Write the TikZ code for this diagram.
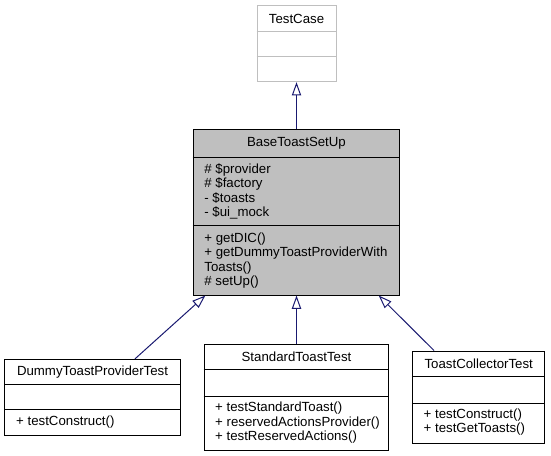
\documentclass[tikz,border=0pt]{standalone}
\usepackage{fontspec}
\setmainfont{Liberation Sans}
\usepackage{tikz}
\usetikzlibrary{arrows.meta,calc}
\definecolor{grey75}{HTML}{BFBFBF}
\definecolor{edgeblue}{HTML}{191970}
\tikzset{
	classbox/.style={draw=black, fill=white, line width=1bp, inner sep=0pt},
	member/.style={anchor=west, align=left, inner sep=0pt},
	title/.style={inner sep=0pt},
	inherit/.style={draw=edgeblue, line width=1bp, -{Triangle[open, length=13.3bp, width=9.3bp]}}
}
\begin{document}
\begin{tikzpicture}[x=1bp, y=-1bp, font=\fontsize{13.3}{14.5}\selectfont]
		\useasboundingbox (0,0) rectangle (551,456);
		\node[classbox, draw=grey75, minimum width=79bp, minimum height=76bp] (testcase) at (296.5,43.7) {};
		\draw[grey75, line width=1bp] (testcase.west |- 0,31.7) -- (testcase.east |- 0,31.7);
		\draw[grey75, line width=1bp] (testcase.west |- 0,56.7) -- (testcase.east |- 0,56.7);
		\node[title] at (296.5,18.7) {TestCase};
		\node[classbox, fill=grey75, minimum width=206.7bp, minimum height=165bp] (base) at (296.5,212.5) {};
		\draw[line width=1bp] (base.west |- 0,157.3) -- (base.east |- 0,157.3);
		\draw[line width=1bp] (base.west |- 0,225.7) -- (base.east |- 0,225.7);
		\node[title] at (296.5,143.7) {BaseToastSetUp};
		\node[member] at (204.2,191.5) {\# \$provider\\\# \$factory\\- \$toasts\\- \$ui\_mock};
		\node[member] at (204.2,260.4) {+ getDIC()\\+ getDummyToastProviderWith\\Toasts()\\\# setUp()};
		\node[classbox, minimum width=175bp, minimum height=75.7bp] (dummy) at (92.5,397.2) {};
		\draw[line width=1bp] (dummy.west |- 0,384.3) -- (dummy.east |- 0,384.3);
		\draw[line width=1bp] (dummy.west |- 0,409.3) -- (dummy.east |- 0,409.3);
		\node[title] at (92.5,371.8) {DummyToastProviderTest};
		\node[member] at (16,422.2) {+ testConstruct()};
		\node[classbox, minimum width=184.7bp, minimum height=106bp] (standard) at (296.5,397) {};
		\draw[line width=1bp] (standard.west |- 0,369.3) -- (standard.east |- 0,369.3);
		\draw[line width=1bp] (standard.west |- 0,396) -- (standard.east |- 0,396);
		\node[title] at (296.5,356.7) {StandardToastTest};
		\node[member] at (215,423) {+ testStandardToast()\\+ reservedActionsProvider()\\+ testReservedActions()};
		\node[classbox, minimum width=132.5bp, minimum height=92bp] (collector) at (478.7,397) {};
		\draw[line width=1bp] (collector.west |- 0,376.5) -- (collector.east |- 0,376.5);
		\draw[line width=1bp] (collector.west |- 0,403) -- (collector.east |- 0,403);
		\node[title] at (478.7,363.8) {ToastCollectorTest};
		\node[member] at (423.5,422) {+ testConstruct()\\+ testGetToasts()};
		\draw[inherit] (base.north) -- (testcase.south);
		\draw[inherit] ($(dummy.north)+(42.5,0)$) -- ($(base.south west)+(12.7,0)$);
		\draw[inherit] (standard.north) -- (base.south);
		\draw[inherit] ($(collector.north)+(-44.7,0)$) -- ($(base.south east)+(-21.7,0)$);
	\end{tikzpicture}
\end{document}
